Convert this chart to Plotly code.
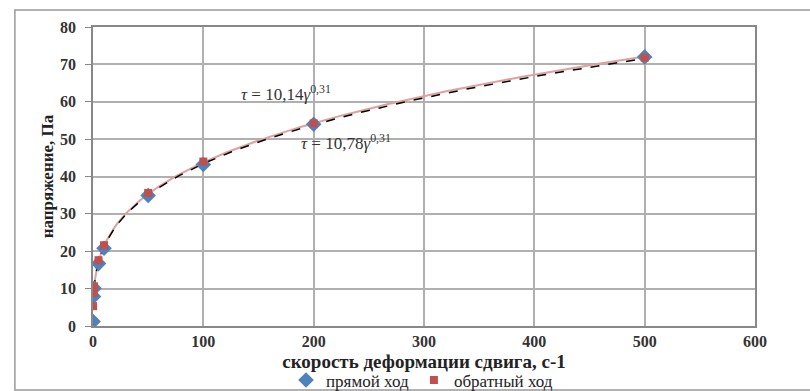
import numpy as np
import plotly.graph_objects as go

# data
x_forward = [0.1, 0.5, 1, 5, 10, 50, 100, 200, 500]
y_forward = [1.2, 7.9, 10.1, 16.7, 20.8, 34.9, 43.2, 54.0, 72.0]
x_backward = [0.1, 0.5, 1, 5, 10, 50, 100, 200, 500]
y_backward = [5.3, 8.8, 10.6, 17.6, 21.6, 35.6, 44.0, 54.2, 71.8]
# trendline curves as drawn (coefficient, exponent)
trend_forward = (10.42, 0.31)
trend_backward = (10.5, 0.31)
label_forward = "<i>τ</i> = 10,14<i>γ</i><sup>0,31</sup>"
label_backward = "<i>τ</i> = 10,78<i>γ</i><sup>0,31</sup>"
x_ticks = [0, 100, 200, 300, 400, 500, 600]
y_ticks = [0, 10, 20, 30, 40, 50, 60, 70, 80]

serif = "Liberation Serif"
blue = "#4F81BD"
red = "#C0504D"

xs = np.concatenate([np.linspace(0.1, 10, 80), np.linspace(10, 500, 200)])

fig = go.Figure()
fig.add_trace(go.Scatter(x=xs, y=trend_backward[0] * xs ** trend_backward[1], mode="lines",
                         line=dict(color="#E0A0A0", width=2), showlegend=False, hoverinfo="skip"))
fig.add_trace(go.Scatter(x=xs, y=trend_forward[0] * xs ** trend_forward[1], mode="lines",
                         line=dict(color="black", width=1.5, dash="dash"), showlegend=False, hoverinfo="skip"))
fig.add_trace(go.Scatter(x=x_forward, y=y_forward, mode="markers", name="прямой ход",
                         marker=dict(symbol="diamond", size=12, color=blue, line=dict(width=0))))
fig.add_trace(go.Scatter(x=x_backward, y=y_backward, mode="markers", name="обратный ход",
                         marker=dict(symbol="square", size=8, color=red, line=dict(width=0))))

fig.update_layout(
    width=810, height=391,
    margin=dict(l=93, r=55, t=27, b=65, autoexpand=False),
    paper_bgcolor="white", plot_bgcolor="white",
    font=dict(family=serif, color="#222"),
    showlegend=True,
    legend=dict(orientation="h", x=0.497, xanchor="center", y=-0.182, yanchor="middle",
                font=dict(family=serif, size=17), itemwidth=30, tracegroupgap=0,
                bgcolor="rgba(0,0,0,0)"),
    xaxis=dict(range=[0, 600], tickvals=x_ticks, ticktext=[f"<b>{v}</b>" for v in x_ticks],
               showgrid=True, gridcolor="#B0B0B0", gridwidth=1.5, automargin=False,
               zeroline=False, showline=True, linecolor="#888", linewidth=1.5, mirror=True,
               tickfont=dict(family=serif, size=16, color="#333"),
               title=dict(text="<b>скорость деформации сдвига, с-1</b>", standoff=6,
                          font=dict(family=serif, size=19, color="#222"))),
    yaxis=dict(range=[0, 80], tickvals=y_ticks, ticktext=[f"<b>{v}</b>" for v in y_ticks],
               showgrid=True, gridcolor="#B0B0B0", gridwidth=1.5, automargin=False,
               zeroline=False, showline=True, linecolor="#888", linewidth=1.5, mirror=True,
               tickfont=dict(family=serif, size=16, color="#333"), ticks="outside", ticklen=6,
               tickcolor="#888", ticklabelstandoff=6,
               title=dict(text="<b>напряжение, Па</b>", standoff=2,
                          font=dict(family=serif, size=17, color="#222"))),
    annotations=[
        dict(x=175, y=62.3, xref="x", yref="y", showarrow=False, text=label_forward,
             font=dict(family=serif, size=17, color="#333")),
        dict(x=229, y=49.2, xref="x", yref="y", showarrow=False, text=label_backward,
             font=dict(family=serif, size=17, color="#333")),
    ],
    shapes=[dict(type="rect", xref="paper", yref="paper", x0=-0.118, x1=1.09, y0=-0.214, y1=1.057,
                 line=dict(color="#999", width=1.5), fillcolor="rgba(0,0,0,0)")],
)

fig.write_html("out.html")
